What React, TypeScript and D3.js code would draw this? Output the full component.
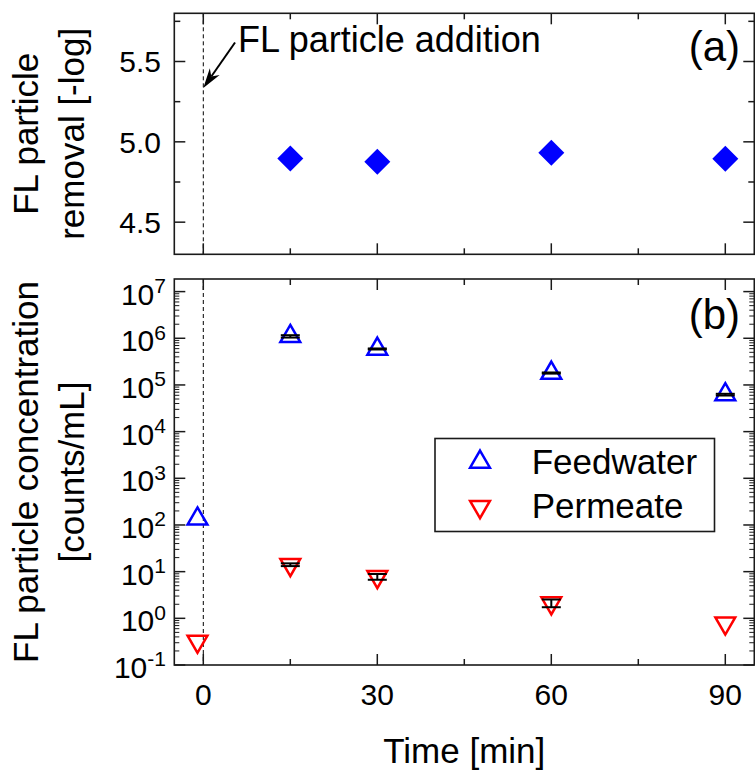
import React from 'react';
import * as d3 from 'd3';

const times = [-1, 15, 30, 60, 90];
const feedwater = [135, 1.1e6, 5.9e5, 1.8e5, 6.2e4];
const feedwaterErr = [0, 6.4e4, 1.5e4, 5e3, 2.6e3];
const permeate = [0.32, 14.1, 7.8, 2.13, 0.79];
const permeateErr = [0, 0.95, 1.1, 0.4, 0];
const removalTimes = [15, 30, 60, 90];
const removalValues = [4.897, 4.876, 4.932, 4.895];
const seriesNames = ['Feedwater', 'Permeate'];
const xMajorTicks = [0, 30, 60, 90];
const xMinorTicks = [15, 45, 75];
const removalMajorTicks = [4.5, 5.0, 5.5];
const removalMinorTicks = [4.75, 5.25, 5.75];
const concDecades = [-1, 0, 1, 2, 3, 4, 5, 6, 7];
const annotationText = 'FL particle addition';

const FONT = 'Liberation Sans, Arial, Helvetica, sans-serif';
const BLUE = '#0000ff';
const RED = '#ff0000';
const FRAME = '#1a1a1a';

const L = 174.3, R = 754.3;
const TOP_T = 13.3, TOP_B = 254.3;
const BOT_T = 279, BOT_B = 665;
const MAJ = 11, MIN = 6;

export default function App() {
  const x = d3.scaleLinear().domain([-5, 95]).range([L, R]);
  const yTop = d3.scaleLinear().domain([4.3, 5.8]).range([TOP_B, TOP_T]);
  const yBot = d3.scaleLog().domain([0.1, Math.pow(10, 7.27)]).range([BOT_B, BOT_T]);

  const diamond = d3.symbol().type(d3.symbolSquare).size(338)()!;
  const tri = d3.symbol().type(d3.symbolTriangle).size(170)()!;

  const logMinor: number[] = [];
  concDecades.forEach((d) => {
    for (let k = 2; k <= 9; k++) {
      const v = k * Math.pow(10, d);
      const [lo, hi] = yBot.domain();
      if (v > lo && v < hi) logMinor.push(v);
    }
  });

  const xTicksFor = (top: number, bottom: number, key: string) => (
    <g key={key}>
      {xMajorTicks.map((t) => (
        <g key={'M' + t}>
          <line x1={x(t)} x2={x(t)} y1={bottom} y2={bottom - MAJ} stroke={FRAME} strokeWidth={1.5} />
          <line x1={x(t)} x2={x(t)} y1={top} y2={top + MAJ} stroke={FRAME} strokeWidth={1.5} />
        </g>
      ))}
      {xMinorTicks.map((t) => (
        <g key={'m' + t}>
          <line x1={x(t)} x2={x(t)} y1={bottom} y2={bottom - MIN} stroke={FRAME} strokeWidth={1.5} />
          <line x1={x(t)} x2={x(t)} y1={top} y2={top + MIN} stroke={FRAME} strokeWidth={1.5} />
        </g>
      ))}
    </g>
  );

  const yTickPair = (y: number, len: number, k: string, sw = 1.5) => (
    <g key={k}>
      <line x1={L} x2={L + len} y1={y} y2={y} stroke={FRAME} strokeWidth={sw} />
      <line x1={R} x2={R - len} y1={y} y2={y} stroke={FRAME} strokeWidth={sw} />
    </g>
  );

  const errBar = (t: number, v: number, e: number, k: string) => {
    if (!e) return null;
    const cx = x(t);
    const y1 = yBot(v - e);
    const y2 = yBot(v + e);
    return (
      <g key={k} stroke="#000" strokeWidth={2}>
        <line x1={cx} x2={cx} y1={y1} y2={y2} />
        <line x1={cx - 9.5} x2={cx + 9.5} y1={y1} y2={y1} />
        <line x1={cx - 9.5} x2={cx + 9.5} y1={y2} y2={y2} />
      </g>
    );
  };

  // arrow
  const ax1 = x(5.47), ay1 = yTop(5.618);
  const ax2 = x(0), ay2 = yTop(5.335);
  const ang = Math.atan2(ay2 - ay1, ax2 - ax1);
  const hl = 20, hw = 6, notch = 14;
  const ux = Math.cos(ang), uy = Math.sin(ang);
  const px = -uy, py = ux;
  const head = [
    [ax2, ay2],
    [ax2 - ux * hl + px * hw, ay2 - uy * hl + py * hw],
    [ax2 - ux * notch, ay2 - uy * notch],
    [ax2 - ux * hl - px * hw, ay2 - uy * hl - py * hw],
  ];

  return (
    <svg width={755} height={772} style={{ position: 'absolute', left: 0, top: 0, background: '#fff' }} fontFamily={FONT}>
      <rect x={0} y={0} width={755} height={772} fill="#fff" />

      {/* ---------- Panel (a) ---------- */}
      <line x1={x(0)} x2={x(0)} y1={TOP_T} y2={TOP_B} stroke="#000" strokeWidth={1} strokeDasharray="4,3" />
      {removalTimes.map((t, i) => (
        <path key={'d' + i} d={diamond} transform={`translate(${x(t)},${yTop(removalValues[i])}) rotate(45)`} fill={BLUE} />
      ))}
      {xTicksFor(TOP_T, TOP_B, 'xt-a')}
      {removalMajorTicks.map((t) => yTickPair(yTop(t), MAJ, 'ra' + t))}
      {removalMinorTicks.map((t) => yTickPair(yTop(t), MIN, 'ri' + t))}
      <rect x={L} y={TOP_T} width={R - L} height={TOP_B - TOP_T} fill="none" stroke={FRAME} strokeWidth={1.6} />
      {removalMajorTicks.map((t) => (
        <text key={'rl' + t} x={161} y={yTop(t) + 10.7} fontSize={30} textAnchor="end" fill="#000">
          {t.toFixed(1)}
        </text>
      ))}
      <line x1={ax1} y1={ay1} x2={ax2 - ux * notch} y2={ay2 - uy * notch} stroke="#000" strokeWidth={2} />
      <path d={'M' + head.map((p) => p.join(',')).join('L') + 'Z'} fill="#000" />
      <text x={238} y={51.7} fontSize={36} fill="#000">{annotationText}</text>
      <text x={740} y={61} fontSize={42} textAnchor="end" fill="#000">(a)</text>
      <g transform={`translate(38.3,${(TOP_T + TOP_B) / 2}) rotate(-90)`}>
        <text x={0} y={0} fontSize={35} textAnchor="middle" fill="#000">FL particle</text>
      </g>
      <g transform={`translate(83.8,${(TOP_T + TOP_B) / 2}) rotate(-90)`}>
        <text x={0} y={0} fontSize={35} textAnchor="middle" fill="#000">removal [-log]</text>
      </g>

      {/* ---------- Panel (b) ---------- */}
      <line x1={x(0)} x2={x(0)} y1={BOT_T} y2={BOT_B} stroke="#000" strokeWidth={1} strokeDasharray="4,3" />
      {times.map((t, i) => (
        <path key={'f' + i} d={tri} transform={`translate(${x(t)},${yBot(feedwater[i])})`} fill="none" stroke={BLUE} strokeWidth={2.5} strokeLinejoin="miter" />
      ))}
      {times.map((t, i) => (
        <path key={'p' + i} d={tri} transform={`translate(${x(t)},${yBot(permeate[i])}) rotate(180)`} fill="none" stroke={RED} strokeWidth={2.5} strokeLinejoin="miter" />
      ))}
      {times.map((t, i) => errBar(t, feedwater[i], feedwaterErr[i], 'ef' + i))}
      {times.map((t, i) => errBar(t, permeate[i], permeateErr[i], 'ep' + i))}
      {xTicksFor(BOT_T, BOT_B, 'xt-b')}
      {concDecades.map((d) => yTickPair(yBot(Math.pow(10, d)), MAJ, 'ca' + d))}
      {logMinor.map((v, i) => yTickPair(yBot(v), 5, 'ci' + i, 1))}
      <rect x={L} y={BOT_T} width={R - L} height={BOT_B - BOT_T} fill="none" stroke={FRAME} strokeWidth={1.6} />
      {concDecades.map((d) => (
        <text key={'cl' + d} x={166} y={yBot(Math.pow(10, d)) + 13} fontSize={30} textAnchor="end" fill="#000">
          <tspan>10</tspan>
          <tspan fontSize={21} dy={-11.7}>{String(d)}</tspan>
        </text>
      ))}
      <text x={740} y={329} fontSize={42} textAnchor="end" fill="#000">(b)</text>
      <g transform={`translate(38.3,${(BOT_T + BOT_B) / 2}) rotate(-90)`}>
        <text x={0} y={0} fontSize={35} textAnchor="middle" fill="#000">FL particle concentration</text>
      </g>
      <g transform={`translate(83.8,${(BOT_T + BOT_B) / 2}) rotate(-90)`}>
        <text x={0} y={0} fontSize={35} textAnchor="middle" fill="#000">[counts/mL]</text>
      </g>

      {/* legend */}
      <rect x={435} y={438.5} width={279.5} height={93} fill="#fff" stroke={FRAME} strokeWidth={1.6} />
      <path d={tri} transform="translate(480,462)" fill="none" stroke={BLUE} strokeWidth={2.5} />
      <path d={tri} transform="translate(480,506.7) rotate(180)" fill="none" stroke={RED} strokeWidth={2.5} />
      <text x={531.7} y={474} fontSize={35} fill="#000">{seriesNames[0]}</text>
      <text x={531.7} y={518.3} fontSize={35} fill="#000">{seriesNames[1]}</text>

      {/* x axis labels */}
      {xMajorTicks.map((t) => (
        <text key={'xl' + t} x={x(t)} y={705} fontSize={30} textAnchor="middle" fill="#000">{t}</text>
      ))}
      <text x={(L + R) / 2} y={763} fontSize={35} textAnchor="middle" fill="#000">Time [min]</text>
    </svg>
  );
}
